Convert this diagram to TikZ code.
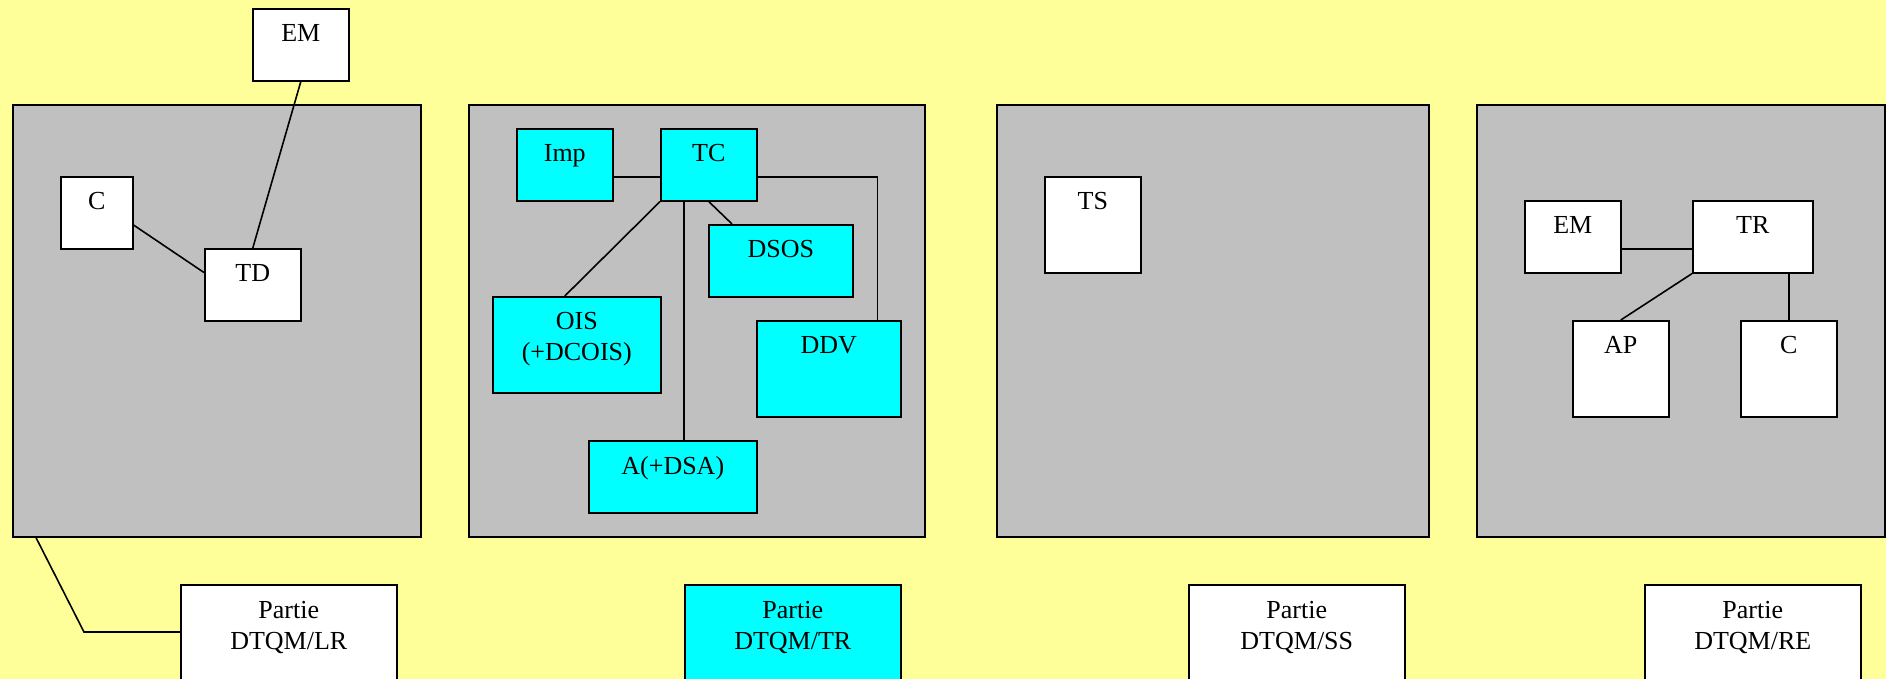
\documentclass[tikz,border=0pt]{standalone}
\usepackage{fontspec}
\setmainfont{Liberation Serif}
\usetikzlibrary{calc}
\definecolor{bgyellow}{HTML}{FFFF99}
\definecolor{panelgray}{HTML}{C0C0C0}
\definecolor{boxcyan}{HTML}{00FFFF}
\tikzset{
  ln/.style={draw=black, line width=0.8pt},
  bx/.style={draw=black, line width=0.8pt, inner sep=0pt, anchor=north west},
  lbl/.style={anchor=base, yshift=-17pt, inner sep=0pt, align=center, font=\fontsize{13pt}{15.5pt}\selectfont},
  lbltwo/.style={lbl, yshift=-15.5pt},
}
\newcommand\mybox[8][lbl]{\node[bx, fill=#7, minimum width={(#5-#3)*0.5pt}, minimum height={(#6-#4)*0.5pt}, label={[#1]north:#8}] (#2) at (#3,#4) {};}
\newcommand\mypanel[5]{\node[bx, fill=panelgray, minimum width={(#4-#2)*0.5pt}, minimum height={(#5-#3)*0.5pt}] (#1) at (#2,#3) {};}
\begin{document}
\begin{tikzpicture}[x=0.5pt, y=-0.5pt]
\useasboundingbox (0,0) rectangle (1886,679);
\clip (0,0) rectangle (1886,679);
\fill[bgyellow] (0,0) rectangle (1886,679);
% panels
\mypanel{p1}{12}{104}{420}{536}
\mypanel{p2}{468}{104}{924}{536}
\mypanel{p3}{996}{104}{1428}{536}
\mypanel{p4}{1476}{104}{1884}{536}
% panel 1
\mybox{em1}{252}{8}{348}{80}{white}{EM}
\mybox{c1}{60}{176}{132}{248}{white}{C}
\mybox{td}{204}{248}{300}{320}{white}{TD}
% panel 2
\mybox{imp}{516}{128}{612}{200}{boxcyan}{Imp}
\mybox{tc}{660}{128}{756}{200}{boxcyan}{TC}
\mybox{dsos}{708}{224}{852}{296}{boxcyan}{DSOS}
\mybox[lbltwo]{ois}{492}{296}{660}{392}{boxcyan}{OIS\\(+DCOIS)}
\mybox{ddv}{756}{320}{900}{416}{boxcyan}{DDV}
\mybox{a}{588}{440}{756}{512}{boxcyan}{A(+DSA)}
% panel 3
\mybox{ts}{1044}{176}{1140}{272}{white}{TS}
% panel 4
\mybox{em2}{1524}{200}{1620}{272}{white}{EM}
\mybox{tr}{1692}{200}{1812}{272}{white}{TR}
\mybox{ap}{1572}{320}{1668}{416}{white}{AP}
\mybox{c2}{1740}{320}{1836}{416}{white}{C}
% bottom parts
\mybox[lbltwo]{lr}{180}{584}{396}{704}{white}{Partie\\DTQM/LR}
\mybox[lbltwo]{ptr}{684}{584}{900}{704}{boxcyan}{Partie\\DTQM/TR}
\mybox[lbltwo]{ss}{1188}{584}{1404}{704}{white}{Partie\\DTQM/SS}
\mybox[lbltwo]{re}{1644}{584}{1860}{704}{white}{Partie\\DTQM/RE}
% connectors
\draw[ln] ($(c1.north east)!2/3!(c1.south east)$) -- ($(td.north west)!1/3!(td.south west)$);
\draw[ln] (em1.south) -- (td.north);
\coordinate (k1) at (84,632);
\draw[ln] ([xshift=12pt]p1.south west) -- (k1) -- (k1 -| lr.west);
\draw[ln] ($(imp.north east)!2/3!(imp.south east)$) -- ($(tc.north west)!2/3!(tc.south west)$);
\draw[ln] (tc.south west) -- ([xshift=-6pt]ois.north);
\coordinate (tca) at ([xshift=12pt]tc.south west);
\draw[ln] (tca) -- (tca |- a.north);
\draw[ln] (tc.south) -- ([xshift=12pt]dsos.north west);
\draw[ln] ($(tc.north east)!2/3!(tc.south east)$) -| ([xshift=-12pt]ddv.north east);
\draw[ln] ($(em2.north east)!2/3!(em2.south east)$) -- ($(tr.north west)!2/3!(tr.south west)$);
\draw[ln] (tr.south west) -- (ap.north);
\draw[ln] (c2.north |- tr.south) -- (c2.north);
\end{tikzpicture}
\end{document}
